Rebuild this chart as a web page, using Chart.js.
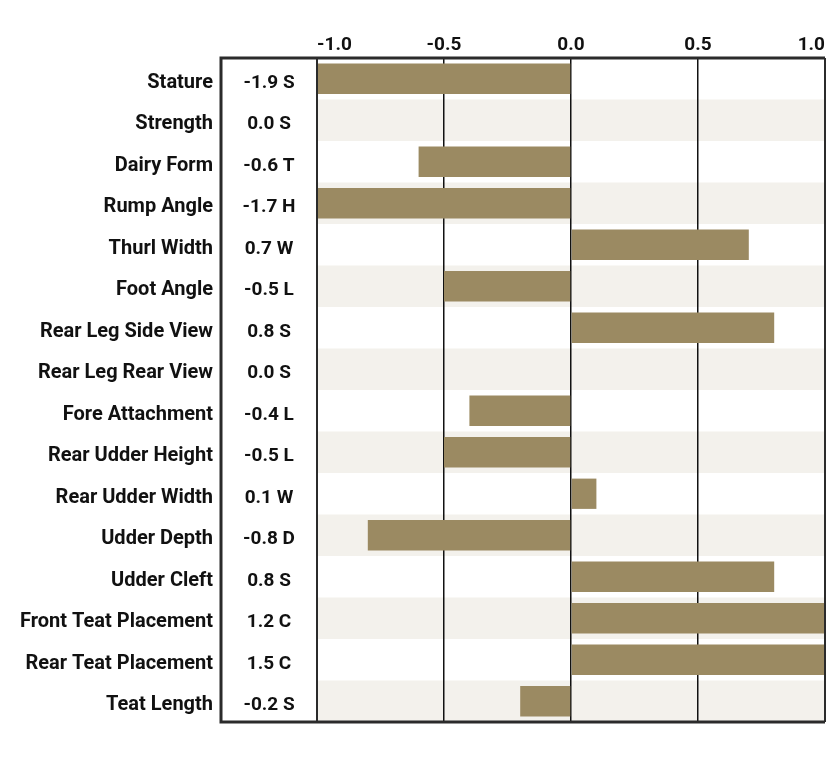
<!DOCTYPE html>
<html>
<head>
<meta charset="utf-8">
<script src="https://cdn.jsdelivr.net/npm/chart.js@4.4.1/dist/chart.umd.min.js"></script>
<style>
  html, body { margin: 0; padding: 0; background: #fff; }
  #wrap { width: 835px; height: 757px; }
</style>
</head>
<body>
<div id="wrap"><canvas id="graphique"></canvas></div>
<script>
const traits = ['Stature', 'Strength', 'Dairy Form', 'Rump Angle', 'Thurl Width', 'Foot Angle',
  'Rear Leg Side View', 'Rear Leg Rear View', 'Fore Attachment', 'Rear Udder Height',
  'Rear Udder Width', 'Udder Depth', 'Udder Cleft', 'Front Teat Placement',
  'Rear Teat Placement', 'Teat Length'];
const scores = [-1.9, 0.0, -0.6, -1.7, 0.7, -0.5, 0.8, 0.0, -0.4, -0.5, 0.1, -0.8, 0.8, 1.2, 1.5, -0.2];
const letters = ['S', 'S', 'T', 'H', 'W', 'L', 'S', 'S', 'L', 'L', 'W', 'D', 'S', 'C', 'C', 'S'];
const xTicks = [-1.0, -0.5, 0.0, 0.5, 1.0];

const police = 'Roboto';
const couleurBarre = '#9b8a62';

// bandes alternées + colonne des valeurs + cadre
const cadrePlugin = {
    id: 'cadre',
    beforeDraw(chart) {
        const { ctx, chartArea } = chart;
        const h = (chartArea.bottom - chartArea.top) / traits.length;
        ctx.save();
        ctx.fillStyle = '#f3f1ec';
        for (let i = 1; i < traits.length; i += 2) {
            ctx.fillRect(chartArea.left, chartArea.top + i * h, chartArea.right - chartArea.left, h);
        }
        ctx.restore();
    },
    afterDraw(chart) {
        const { ctx, chartArea } = chart;
        const y = chart.scales.y;
        const gauche = 221;
        ctx.save();
        ctx.fillStyle = '#111';
        ctx.font = 'bold 19px ' + police;
        ctx.textAlign = 'center';
        ctx.textBaseline = 'middle';
        for (let i = 0; i < traits.length; i++) {
            ctx.fillText(scores[i].toFixed(1) + ' ' + letters[i], (gauche + chartArea.left) / 2, y.getPixelForValue(i) + 4);
        }
        ctx.strokeStyle = '#2b2b2b';
        ctx.lineWidth = 3;
        ctx.beginPath();
        ctx.moveTo(chartArea.right, chartArea.top);
        ctx.lineTo(gauche, chartArea.top);
        ctx.lineTo(gauche, chartArea.bottom);
        ctx.lineTo(chartArea.right, chartArea.bottom);
        ctx.stroke();
        ctx.lineWidth = 2;
        ctx.beginPath();
        ctx.moveTo(chartArea.left, chartArea.top);
        ctx.lineTo(chartArea.left, chartArea.bottom);
        ctx.moveTo(chartArea.right, chartArea.top);
        ctx.lineTo(chartArea.right, chartArea.bottom);
        ctx.stroke();
        ctx.restore();
    }
};

const ctx = document.getElementById('graphique').getContext('2d');
new Chart(ctx, {
    type: 'bar',
    data: {
        labels: traits,
        datasets: [{
            data: scores,
            backgroundColor: couleurBarre,
            borderWidth: 0,
            categoryPercentage: 1,
            barPercentage: 0.73
        }]
    },
    options: {
        indexAxis: 'y',
        responsive: true,
        maintainAspectRatio: false,
        animation: false,
        layout: { padding: { top: 0, right: 10, bottom: 35, left: 0 } },
        scales: {
            x: {
                position: 'top',
                min: -1,
                max: 1,
                afterBuildTicks: (scale) => { scale.ticks = xTicks.map(v => ({ value: v })); },
                afterFit: (scale) => { scale.height = 58; },
                grid: { color: '#111', lineWidth: 1.5, drawTicks: false },
                border: { display: false },
                ticks: {
                    align: 'inner',
                    padding: 1,
                    color: '#111',
                    font: { family: police, size: 19, weight: 'bold' },
                    callback: (v) => Number(v).toFixed(1)
                }
            },
            y: {
                afterFit: (scale) => {
                    scale.width = 317;
                    scale.paddingTop = 0;
                    scale.paddingBottom = 0;
                },
                grid: { display: false, drawTicks: false },
                border: { display: false },
                ticks: {
                    padding: 104,
                    labelOffset: 4,
                    color: '#111',
                    font: { family: police, size: 20, weight: 'bold' }
                }
            }
        },
        plugins: {
            legend: { display: false },
            tooltip: { enabled: false }
        }
    },
    plugins: [cadrePlugin]
});
</script>
</body>
</html>
